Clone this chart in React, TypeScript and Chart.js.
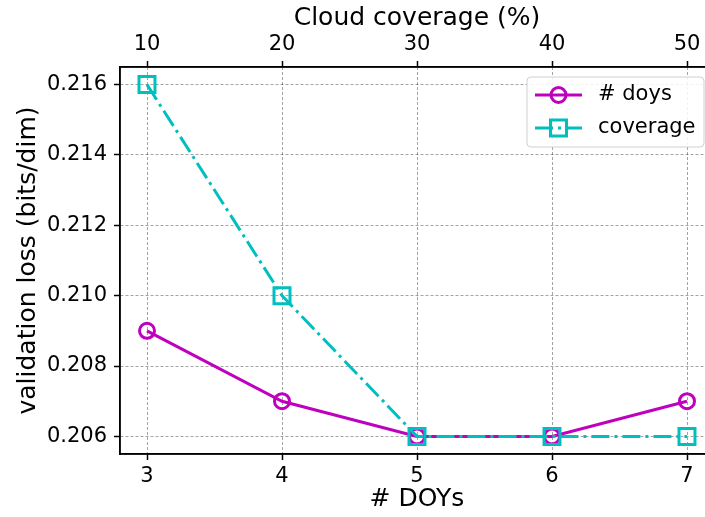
import React, { useEffect, useRef } from "react";
import { Chart, registerables } from "chart.js";
Chart.register(...registerables);

const doysValues = [3, 4, 5, 6, 7];
const lossByDoys = [0.209, 0.207, 0.206, 0.206, 0.207];
const coverageValues = [10, 20, 30, 40, 50];
const lossByCoverage = [0.216, 0.21, 0.206, 0.206, 0.206];
const yTicks = [0.206, 0.208, 0.21, 0.212, 0.214, 0.216];
const seriesLabels = ["# doys", "coverage"];
const axisTitles = { x: "# DOYs", x2: "Cloud coverage (%)", y: "validation loss (bits/dim)" };

const MAGENTA = "#bf00bf";
const CYAN = "#00bfbf";
const FONT = "DejaVu Sans";
const DASHDOT = [18, 5, 3, 5];

const framePlugin = {
  id: "frame",
  afterDraw(chart: any) {
    const { ctx, chartArea: a } = chart;
    ctx.save();
    ctx.strokeStyle = "#000";
    ctx.lineWidth = 1.5;
    ctx.strokeRect(a.left, a.top, a.right - a.left, a.bottom - a.top);
    // legend
    const bw = 177;
    const bh = 70;
    const bx = a.right - 10 - bw;
    const by = a.top + 10;
    ctx.beginPath();
    if ((ctx as any).roundRect) (ctx as any).roundRect(bx, by, bw, bh, 4);
    else ctx.rect(bx, by, bw, bh);
    ctx.fillStyle = "rgba(255,255,255,0.85)";
    ctx.fill();
    ctx.strokeStyle = "#d0d0d0";
    ctx.lineWidth = 1;
    ctx.stroke();
    const rows = [
      { label: chart.data.datasets[0].label, color: MAGENTA, dash: [], shape: "circle" },
      { label: chart.data.datasets[1].label, color: CYAN, dash: DASHDOT, shape: "rect" },
    ];
    rows.forEach((r, i) => {
      const cy = by + 18 + i * 33;
      const x0 = bx + 8;
      const x1 = bx + 55;
      const cx = (x0 + x1) / 2;
      ctx.save();
      ctx.strokeStyle = r.color;
      ctx.lineWidth = 3;
      ctx.setLineDash(r.dash);
      ctx.beginPath();
      ctx.moveTo(x0, cy);
      ctx.lineTo(x1, cy);
      ctx.stroke();
      ctx.setLineDash([]);
      ctx.beginPath();
      if (r.shape === "circle") ctx.arc(cx, cy, 7.5, 0, Math.PI * 2);
      else ctx.rect(cx - 8, cy - 8, 16, 16);
      ctx.stroke();
      ctx.restore();
      ctx.fillStyle = "#000";
      ctx.font = `21px "${FONT}"`;
      ctx.textBaseline = "middle";
      ctx.textAlign = "left";
      ctx.fillText(r.label, bx + 71, cy);
    });
    ctx.restore();
  },
};

export default function App() {
  const ref = useRef<HTMLCanvasElement>(null);
  useEffect(() => {
    if (!ref.current) return;
    const tickFont = { family: FONT, size: 21 };
    const titleFont = { family: FONT, size: 25 };
    const chart = new Chart(ref.current, {
      type: "line",
      data: {
        datasets: [
          {
            label: seriesLabels[0],
            data: doysValues.map((x, i) => ({ x, y: lossByDoys[i] })),
            xAxisID: "x",
            yAxisID: "y",
            borderColor: MAGENTA,
            borderWidth: 3,
            pointStyle: "circle",
            pointRadius: 7.5,
            pointBorderWidth: 3,
            pointBorderColor: MAGENTA,
            pointBackgroundColor: "rgba(0,0,0,0)",
            order: 2,
          },
          {
            label: seriesLabels[1],
            data: coverageValues.map((x, i) => ({ x, y: lossByCoverage[i] })),
            xAxisID: "x2",
            yAxisID: "y",
            borderColor: CYAN,
            borderWidth: 3,
            borderDash: DASHDOT,
            pointStyle: "rect",
            pointRadius: 11.3,
            pointBorderWidth: 3,
            pointBorderColor: CYAN,
            pointBackgroundColor: "rgba(0,0,0,0)",
            order: 1,
          },
        ],
      },
      options: {
        animation: false,
        responsive: false,
        events: [],
        layout: { padding: { left: 0, right: 16, top: 0, bottom: 0 } },
        plugins: { legend: { display: false }, tooltip: { enabled: false } },
        scales: {
          x: {
            type: "linear",
            position: "bottom",
            min: 2.8,
            max: 7.2,
            afterBuildTicks: (s: any) => {
              s.ticks = doysValues.map((v) => ({ value: v }));
            },
            afterFit: (s: any) => {
              s.height = 63;
            },
            ticks: { font: tickFont, color: "#000", padding: 4, callback: (v: any) => String(v) },
            grid: {
              color: "rgba(0,0,0,0.45)",
              lineWidth: 0.8,
              tickColor: "#000",
              tickLength: 6,
              tickWidth: 1.5,
            },
            border: { color: "#000", width: 1.5, dash: [3, 2] },
            title: { display: true, text: axisTitles.x, font: titleFont, color: "#000", padding: { top: 0, bottom: 3 } },
          },
          x2: {
            type: "linear",
            position: "top",
            min: 8,
            max: 52,
            afterBuildTicks: (s: any) => {
              s.ticks = coverageValues.map((v) => ({ value: v }));
            },
            afterFit: (s: any) => {
              s.height = 67;
            },
            ticks: { font: tickFont, color: "#000", padding: 4, callback: (v: any) => String(v) },
            grid: {
              drawOnChartArea: false,
              tickColor: "#000",
              tickLength: 6,
              tickWidth: 1.5,
            },
            border: { color: "#000", width: 1.5 },
            title: { display: true, text: axisTitles.x2, font: titleFont, color: "#000", padding: { top: 3, bottom: 0 } },
          },
          y: {
            type: "linear",
            position: "left",
            min: 0.2055,
            max: 0.2165,
            afterBuildTicks: (s: any) => {
              s.ticks = yTicks.map((v) => ({ value: v }));
            },
            afterFit: (s: any) => {
              s.width = 120;
            },
            ticks: { font: tickFont, color: "#000", padding: 7, callback: (v: any) => Number(v).toFixed(3) },
            grid: {
              color: "rgba(0,0,0,0.45)",
              lineWidth: 0.8,
              tickColor: "#000",
              tickLength: 6,
              tickWidth: 1.5,
            },
            border: { color: "#000", width: 1.5, dash: [3, 2] },
            title: { display: true, text: axisTitles.y, font: titleFont, color: "#000", padding: { top: 13, bottom: 0 } },
          },
        },
      } as any,
      plugins: [framePlugin],
    });
    return () => chart.destroy();
  }, []);
  return (
    <div style={{ position: "fixed", left: 0, top: 0, width: 705, height: 517, overflow: "hidden", background: "#fff" }}>
      <canvas ref={ref} width={730} height={517} style={{ display: "block" }} />
    </div>
  );
}
